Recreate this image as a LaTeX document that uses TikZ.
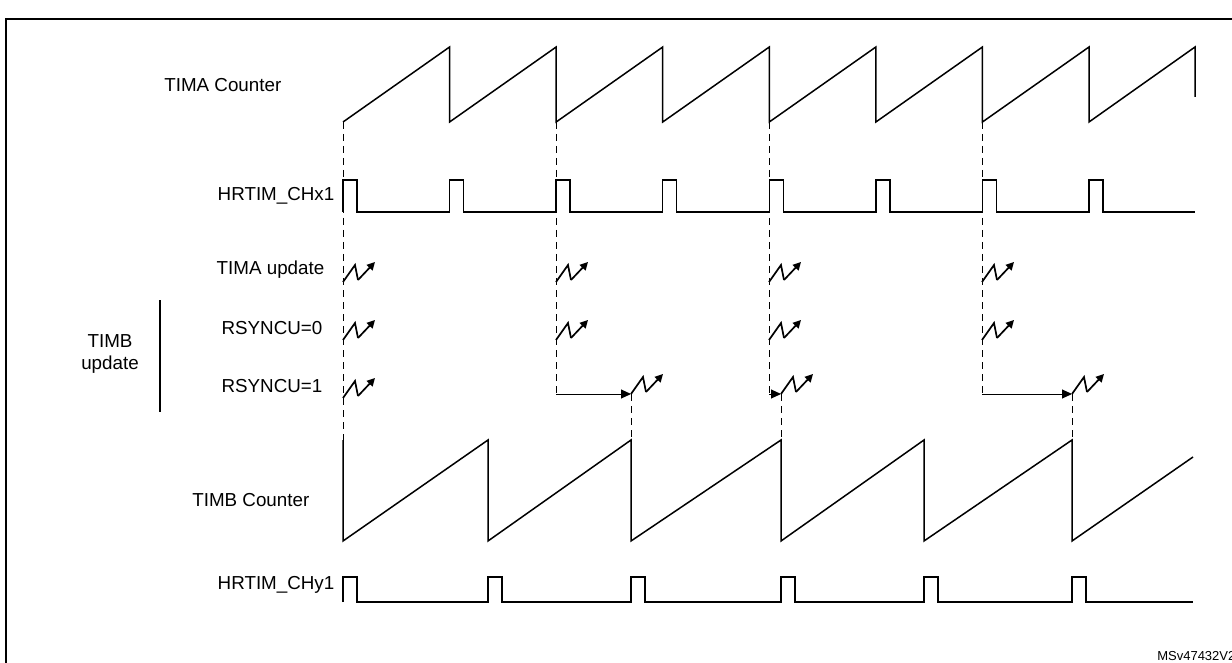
\documentclass[tikz,border=0pt]{standalone}
\usepackage{fontspec}
\setmainfont{Liberation Sans}
\usetikzlibrary{arrows.meta}

% update mark: zigzag with an arrow
\newcommand\updmark[2]{%
  \draw[line width=1.7pt] (#1,#2) -- ++(12,-17) -- ++(3,15);
  \draw[line width=1.7pt, -{Triangle[length=8pt,width=8pt]}] (#1+15,#2-2) -- ++(17,-18);
}

\begin{document}
\begin{tikzpicture}[
       x=1pt, y=-1pt,
       line width=1.3pt,
       sig/.style={line width=1.5pt, line join=miter},
       guide/.style={line width=1pt, dash pattern=on 7pt off 5pt},
       lab/.style={font=\fontsize{18.8}{22}\selectfont, anchor=east, inner sep=0pt}
     ]

       \useasboundingbox (0,0) rectangle (1232,663);
       \begin{scope}
         \clip (0,0) rectangle (1232,663);
         \draw[line width=2pt] (6,19) rectangle (1260,700);
         \node[font=\fontsize{13}{15}\selectfont, anchor=south east, inner sep=0pt] (ref) at (1236,661) {MSv47432V2};
       \end{scope}

       % labels
       \node[lab] (tima) at (282,85) {TIMA Counter};
       \node[lab] (chx) at (335,196) {HRTIM\_CHx1};
       \node[lab] (upda) at (325,270) {TIMA update};
       \node[lab] (rs0) at (323,328) {RSYNCU=0};
       \node[lab] (rs1) at (323,386) {RSYNCU=1};
       \node[lab, anchor=center, align=center] (timbu) at (110,354) {TIMB\\update};
       \node[lab] (timb) at (310,500) {TIMB Counter};
       \node[lab] (chy) at (335,585) {HRTIM\_CHy1};
       \draw[line width=1.2pt] (160,300) -- (160,412);

       % TIMA counter
       \draw[sig] (343,122) \foreach \k in {1,...,7}{ -- ({343+106.57*\k},47) -- ({343+106.57*\k},122) } -- (1195,47) -- (1195,97);

       % HRTIM_CHx1
       \draw[sig] (343,212) \foreach \k in {0,...,7}{ -- ({343+106.57*\k},212) -- ({343+106.57*\k},180) -- ({357+106.57*\k},180) -- ({357+106.57*\k},212) } -- (1195,212);

       % TIMB counter
       \draw[sig] (343,440) -- (343,541) \foreach \t in {488,631,781,924,1072}{ -- (\t,440) -- (\t,541) } -- (1193,457);

       % HRTIM_CHy1
       \draw[sig] (343,602) \foreach \t in {343,488,631,781,924,1072}{ -- (\t,602) -- (\t,577) -- (\t+14,577) -- (\t+14,602) } -- (1193,602);

       % resets on TIMA
       \foreach \x in {343,556,769,982}{
         \updmark{\x}{282}
         \updmark{\x}{340}
       }
       \updmark{343}{398}
       \draw[guide] (343,122) -- (343,440);

       % delayed TIMB updates
       \foreach \x/\d in {556/631,769/781,982/1072}{
         \coordinate (s\x) at (\x,394);
         \coordinate (e\x) at (\d,394);
         \draw[guide] (\x,122) -- (s\x);
         \draw[line width=1pt, -{Triangle[length=10pt,width=9pt]}] (s\x) -- (e\x);
         \updmark{\d}{394}
         \draw[guide] (e\x) -- (\d,440);
       }

\end{tikzpicture}
\end{document}
